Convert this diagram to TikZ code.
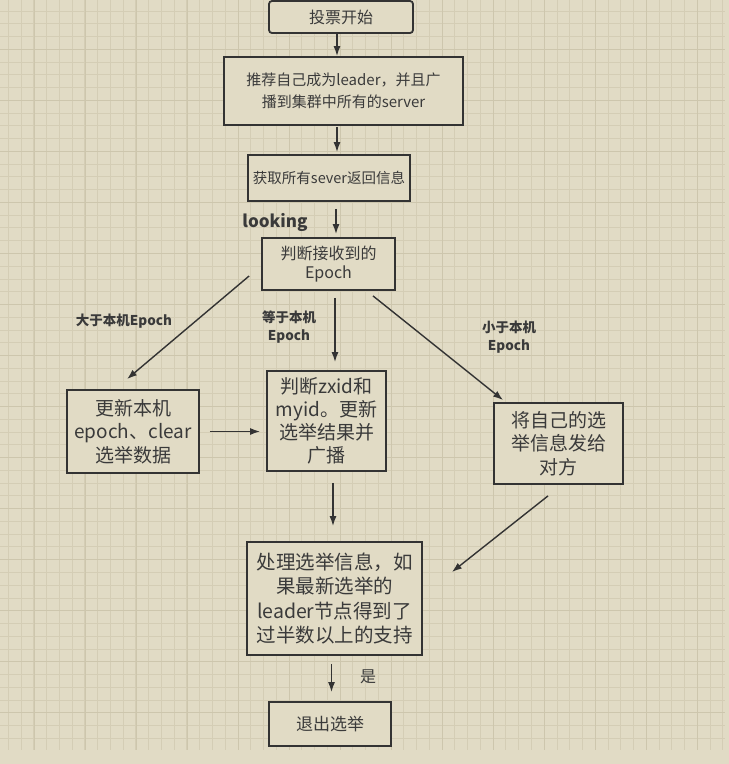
\documentclass[tikz,border=0pt]{standalone}
\usepackage{fontspec}
\setmainfont{Noto Sans CJK SC}
\usetikzlibrary{arrows.meta}

\definecolor{bgc}{HTML}{E1DBC5}
\definecolor{gridc}{HTML}{D4CDB5}
\definecolor{majorc}{HTML}{CDC6AD}
\definecolor{linec}{HTML}{333333}
\definecolor{txtc}{HTML}{3A3A3A}

\tikzset{
  box/.style={
    draw=linec,
    line width=1.8pt,
    fill=bgc,
    text=txtc,
    align=center,
    inner sep=0pt
  },
  arr/.style={
    draw=linec,
    line width=1.4pt,
    -{Latex[length=10pt,width=7pt]}
  },
  lbl/.style={
    text=txtc,
    align=center,
    inner sep=0pt,
    font=\bfseries\fontsize{13.5}{18}\selectfont
  }
}

\begin{document}
\begin{tikzpicture}[x=1pt,y=-1pt]
  \useasboundingbox (0,0) rectangle (729,764);
  \fill[bgc] (0,0) rectangle (729,764);

  \foreach \i in {0,...,56}
    \draw[gridc, line width=0.9pt] ({8.3+12.76*\i},0) -- ({8.3+12.76*\i},750);
  \foreach \i in {0,...,57}
    \draw[gridc, line width=0.9pt] (0,{11+12.76*\i}) -- (725,{11+12.76*\i});
  \foreach \k in {0,...,13}
    \draw[majorc, line width=1.2pt] ({34.3+51.03*\k},0) -- ({34.3+51.03*\k},750);
  \foreach \k in {0,...,13}
    \draw[majorc, line width=1.2pt] (0,{49.3+51.03*\k}) -- (725,{49.3+51.03*\k});

  \node[box, rounded corners=3pt, minimum width=144pt, minimum height=32pt,
    font=\fontsize{16}{19}\selectfont] (start) at (341,17) {投票开始};
  \node[box, minimum width=239pt, minimum height=68pt,
    font=\fontsize{15}{22}\selectfont] (recommend) at (343.5,91)
    {推荐自己成为leader，并且广\\播到集群中所有的server};
  \node[box, minimum width=162pt, minimum height=46pt,
    font=\fontsize{14.5}{18}\selectfont] (collect) at (329,178)
    {获取所有sever返回信息};
  \node[box, minimum width=133pt, minimum height=52pt,
    font=\fontsize{16}{19.5}\selectfont] (judge) at (328.5,264)
    {判断接收到的\\Epoch};
  \node[box, minimum width=132pt, minimum height=83pt,
    font=\fontsize{19}{23.5}\selectfont] (update) at (133,431.5)
    {更新本机\\epoch、clear\\选举数据};
  \node[box, minimum width=119pt, minimum height=100pt,
    font=\fontsize{19}{23}\selectfont] (compare) at (326.5,421)
    {判断zxid和\\myid。更新\\选举结果并\\广播};
  \node[box, minimum width=129pt, minimum height=81pt,
    font=\fontsize{19}{23.5}\selectfont] (send) at (558.5,443.5)
    {将自己的选\\举信息发给\\对方};
  \node[box, minimum width=175pt, minimum height=113pt,
    font=\fontsize{19.5}{24.5}\selectfont] (process) at (334.5,598.5)
    {处理选举信息，如\\果最新选举的\\leader节点得到了\\过半数以上的支持};
  \node[box, minimum width=122pt, minimum height=44pt,
    font=\fontsize{17}{20}\selectfont] (quit) at (330,724) {退出选举};

  \node[lbl, font=\bfseries\fontsize{17}{20}\selectfont] (looking) at (275,222) {looking};
  \node[lbl] (greater) at (124,321) {大于本机Epoch};
  \node[lbl] (equal) at (289,327) {等于本机\\Epoch};
  \node[lbl] (less) at (509,337) {小于本机\\Epoch};
  \node[text=txtc, inner sep=0pt, font=\fontsize{16}{19}\selectfont] (yes) at (368,677) {是};

  \draw[arr] ([xshift=-4pt]start.south) -- ([xshift=-4pt]start.south |- recommend.north);
  \draw[arr, shorten <=1pt, shorten >=2pt] ([xshift=-6.5pt]recommend.south)
    -- ([xshift=-6.5pt]recommend.south |- collect.north);
  \draw[arr, shorten <=7pt, shorten >=3pt] ([xshift=7pt]collect.south)
    -- ([xshift=7pt]collect.south |- judge.north);
  \draw[arr] ([shift={(-12pt,-12pt)}]judge.west) -- ([shift={(-6pt,10pt)}]update.north);
  \draw[arr, shorten <=7pt, shorten >=8pt] ([xshift=6.5pt]judge.south)
    -- ([xshift=6.5pt]judge.south |- compare.north);
  \draw[arr] ([shift={(44.5pt,-5pt)}]judge.south) -- ([shift={(10pt,2pt)}]send.north west);
  \draw[arr] ([xshift=10pt]update.east) -- ([xshift=-6pt]compare.west |- update.east);
  \draw[arr, shorten <=11pt, shorten >=15pt] ([xshift=6.5pt]compare.south)
    -- ([xshift=6.5pt]compare.south |- process.north);
  \draw[arr] ([shift={(-10.5pt,-11pt)}]send.south) -- ([shift={(29pt,26.5pt)}]process.east);
  \draw[arr, shorten <=8pt, shorten >=9pt] ([xshift=-3pt]process.south)
    -- ([xshift=-3pt]process.south |- quit.north);
\end{tikzpicture}
\end{document}
